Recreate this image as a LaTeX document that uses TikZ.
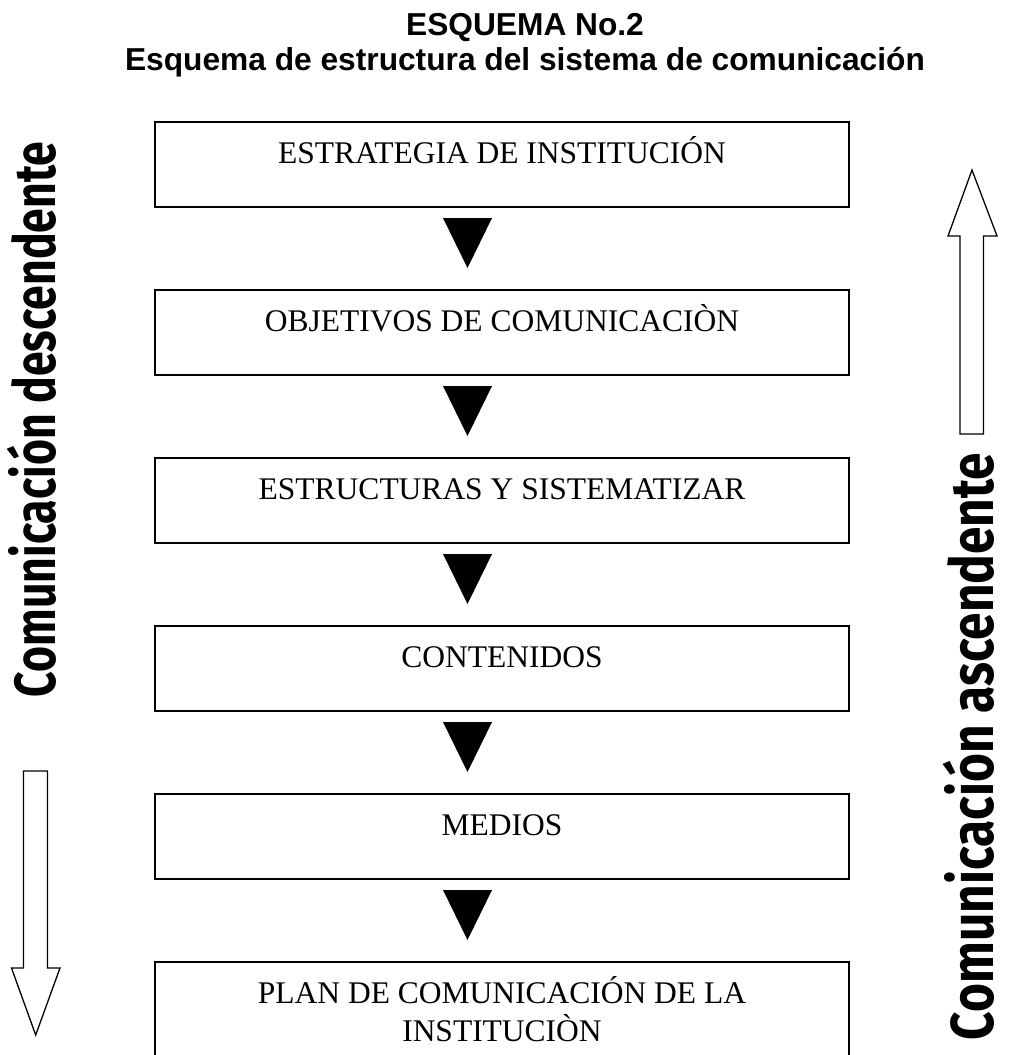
\documentclass[tikz,border=0pt]{standalone}
\usepackage{fontspec}
\setmainfont{Liberation Serif}
\newfontfamily\headfont{Liberation Sans}
\newfontfamily\sidefont{Fira Sans}
\usetikzlibrary{positioning}

\begin{document}
\begin{tikzpicture}[x=1pt, y=-1pt,
        box/.style={rectangle, draw, line width=2pt, outer sep=0pt, inner sep=0pt, minimum width=694pt, text height=41pt, text depth=44pt, align=center, font=\fontsize{31.5}{37.5}\selectfont},
        heading/.style={anchor=base, font=\headfont\bfseries\fontsize{31.7}{38}\selectfont},
        sidetext/.style={anchor=base, rotate=90, font=\sidefont\bfseries},
        hollow/.style={draw, line width=1.3pt, fill=white, line join=miter},
        node distance=83pt
    ]
        \fill[white] (0,0) rectangle (1013,1055);
        \useasboundingbox (0,0) rectangle (1013,1055);

        \node[heading] (title) at (525,35) {ESQUEMA No.2};
        \node[heading] (subtitle) at (525,70) {Esquema de estructura del sistema de comunicación};

        \node[box, anchor=north west] (strategy) at (155,122) {ESTRATEGIA DE INSTITUCIÓN};
        \node[box, below=of strategy] (objectives) {OBJETIVOS DE COMUNICACIÒN};
        \node[box, below=of objectives] (structures) {ESTRUCTURAS Y SISTEMATIZAR};
        \node[box, below=of structures] (contents) {CONTENIDOS};
        \node[box, below=of contents] (media) {MEDIOS};
        \node[box, below=of media, text depth=60pt] (plan) {\begin{tabular}[t]{@{}c@{}}PLAN DE COMUNICACIÓN DE LA\\ INSTITUCIÒN\end{tabular}};

        % black triangles between the boxes
        \foreach \upper in {strategy, objectives, structures, contents, media}
            \fill ([xshift=-59pt, yshift=-11pt]\upper.south) -- ++(49,0) -- ++(-24.5,50) -- cycle;

        % side labels
        \node[sidetext] (downlabel) at (55,419.5) {\fontsize{58}{60}\selectfont\resizebox{555pt}{\height}{Comunicación descendente}};
        \node[sidetext] (uplabel) at (993,746.5) {\fontsize{60.5}{62}\selectfont\resizebox{587pt}{\height}{Comunicación ascendente}};

        % hollow arrows
        \draw[hollow] (23.5,771) -- (47.5,771) -- (47.5,968) -- (60,968) -- (35.7,1035) -- (11.5,968) -- (23.5,968) -- cycle;
        \draw[hollow] (960,434) -- (960,236) -- (948,236) -- (972,170) -- (997,236) -- (983.5,236) -- (983.5,434) -- cycle;
    \end{tikzpicture}
\end{document}
